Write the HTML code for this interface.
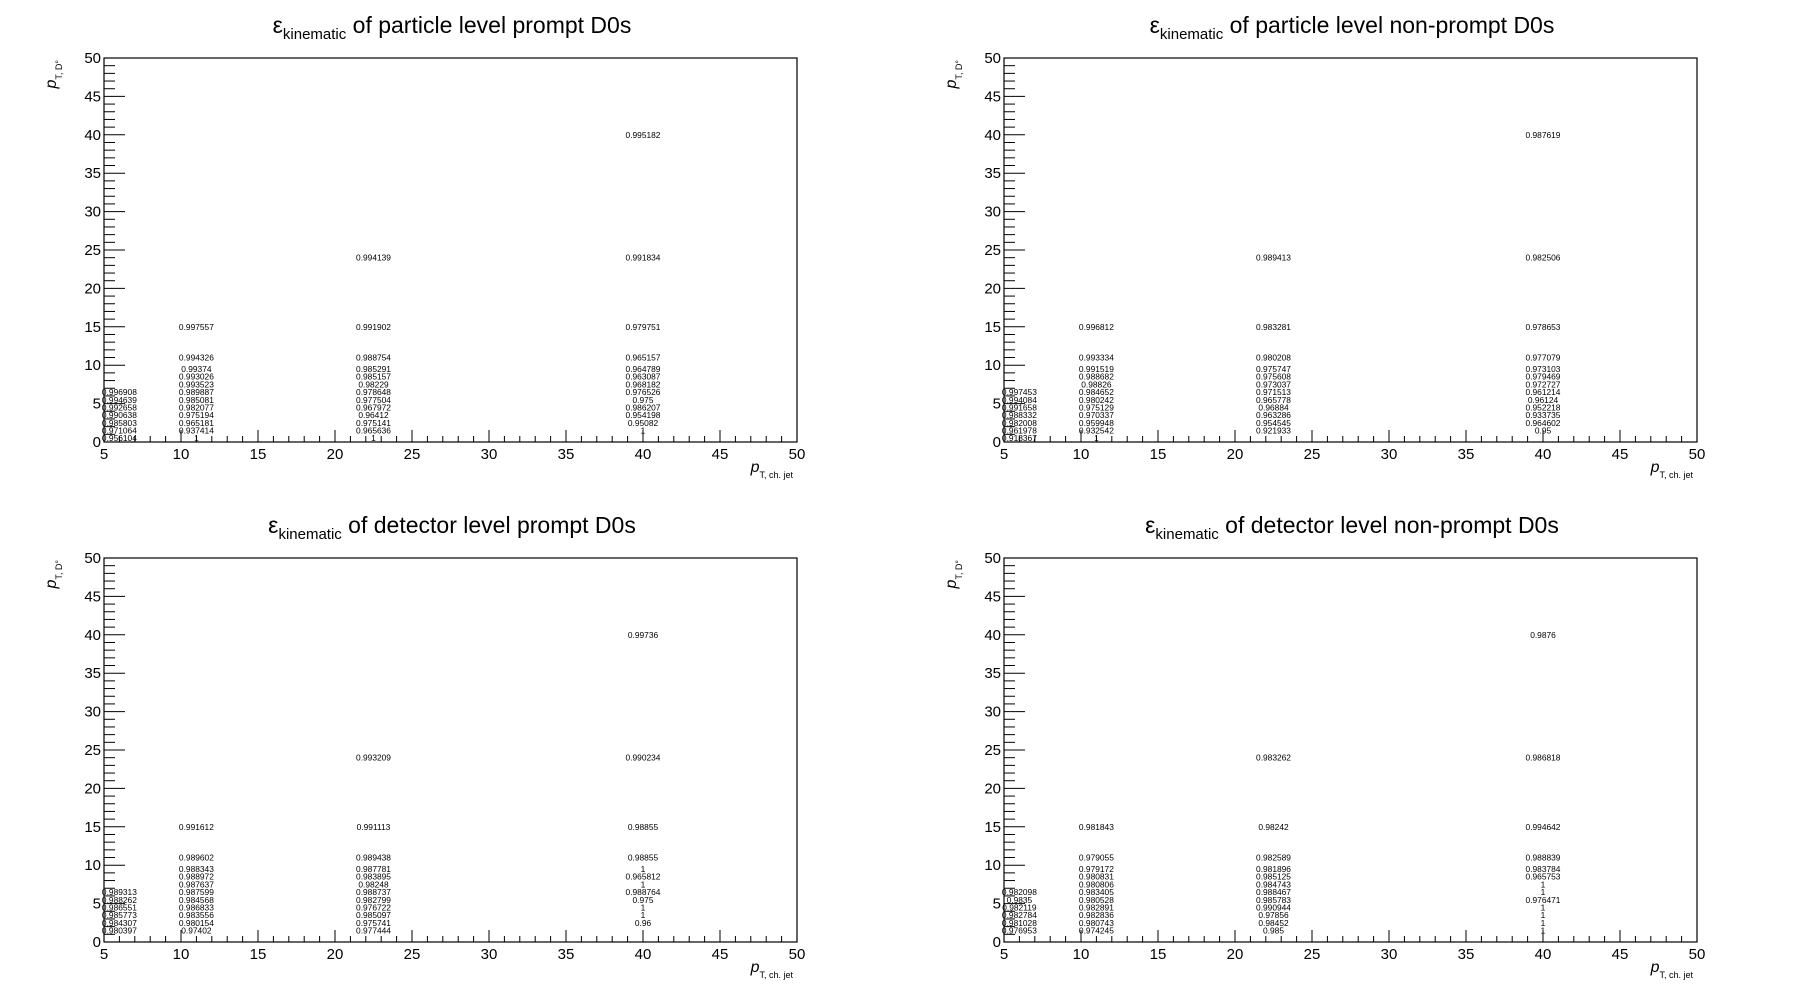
<!DOCTYPE html>
<html>
<head>
<meta charset="utf-8">
<style>
html,body{margin:0;padding:0;background:#fff;}
svg{display:block;font-family:"Liberation Sans",sans-serif;}
</style>
</head>
<body>
<svg id="chart" width="1800" height="1000" viewBox="0 0 1800 1000" xmlns="http://www.w3.org/2000/svg"></svg>
<script>
// shared bins
const colCenters = [6, 11, 22.5, 40];
const rowCenters = [0.5,1.5,2.5,3.5,4.5,5.5,6.5,7.5,8.5,9.5,11,15,24,40];
const xTickLabels = ["5","10","15","20","25","30","35","40","45","50"];
const yTickLabels = ["0","5","10","15","20","25","30","35","40","45","50"];
const titles = ["particle level prompt D0s","particle level non-prompt D0s","detector level prompt D0s","detector level non-prompt D0s"];

// panel 1: particle prompt
const p1c1 = [0.956104,0.971064,0.985803,0.990638,0.992658,0.994639,0.996908,null,null,null,null,null,null,null];
const p1c2 = [1,0.937414,0.965181,0.975194,0.982077,0.985081,0.989887,0.993523,0.993026,0.99374,0.994326,0.997557,null,null];
const p1c3 = [1,0.965636,0.975141,0.96412,0.967972,0.977504,0.978648,0.98229,0.985157,0.985291,0.988754,0.991902,0.994139,null];
const p1c4 = [null,1,0.95082,0.954198,0.986207,0.975,0.976526,0.968182,0.963087,0.964789,0.965157,0.979751,0.991834,0.995182];
// panel 2: particle non-prompt
const p2c1 = [0.918367,0.961978,0.982008,0.988332,0.991658,0.994084,0.997453,null,null,null,null,null,null,null];
const p2c2 = [1,0.932542,0.959948,0.970337,0.975129,0.980242,0.984652,0.98826,0.988682,0.991519,0.993334,0.996812,null,null];
const p2c3 = [null,0.921933,0.954545,0.963286,0.96884,0.965778,0.971513,0.973037,0.975608,0.975747,0.980208,0.983281,0.989413,null];
const p2c4 = [null,0.95,0.964602,0.933735,0.952218,0.96124,0.961214,0.972727,0.979469,0.973103,0.977079,0.978653,0.982506,0.987619];
// panel 3: detector prompt
const p3c1 = [null,0.980397,0.984307,0.985773,0.986551,0.988262,0.989313,null,null,null,null,null,null,null];
const p3c2 = [null,0.97402,0.980154,0.983556,0.986833,0.984568,0.987599,0.987637,0.988972,0.988343,0.989602,0.991612,null,null];
const p3c3 = [null,0.977444,0.975741,0.985097,0.976722,0.982799,0.988737,0.98248,0.983895,0.987781,0.989438,0.991113,0.993209,null];
const p3c4 = [null,null,0.96,1,1,0.975,0.988764,1,0.965812,1,0.98855,0.98855,0.990234,0.99736];
// panel 4: detector non-prompt
const p4c1 = [null,0.976953,0.981028,0.982784,0.982119,0.9835,0.982098,null,null,null,null,null,null,null];
const p4c2 = [null,0.974245,0.980743,0.982836,0.982891,0.980528,0.983405,0.980806,0.980831,0.979172,0.979055,0.981843,null,null];
const p4c3 = [null,0.985,0.98452,0.97856,0.990944,0.985783,0.988467,0.984743,0.985125,0.981896,0.982589,0.98242,0.983262,null];
const p4c4 = [null,1,1,1,1,0.976471,1,1,0.965753,0.983784,0.988839,0.994642,0.986818,0.9876];

const panels = [[p1c1,p1c2,p1c3,p1c4],[p2c1,p2c2,p2c3,p2c4],[p3c1,p3c2,p3c3,p3c4],[p4c1,p4c2,p4c3,p4c4]];

const NS = "http://www.w3.org/2000/svg";
const svg = document.getElementById('chart');
function mk(tag, attrs, parent){
  const e = document.createElementNS(NS, tag);
  for (const k in attrs) e.setAttribute(k, attrs[k]);
  parent.appendChild(e);
  return e;
}
const L=104, R=797, T=58, B=442;
const xMin=5, xMax=50, yMin=0, yMax=50;

panels.forEach((cols, pi) => {
  const ox = (pi % 2) * 900, oy = Math.floor(pi / 2) * 500;
  const sx = v => ox + L + (v - xMin) / (xMax - xMin) * (R - L);
  const sy = v => oy + B - (v - yMin) / (yMax - yMin) * (B - T);
  const g = mk('g', {}, svg);
  
  

  // title
  const title = mk('text', {x: ox + 452, y: oy + 33, 'text-anchor': 'middle', 'font-size': 23, fill: '#000'}, g);
  
  
  const t1 = mk('tspan', {}, title); t1.textContent = 'ε';
  const t2 = mk('tspan', {'font-size': 15, dy: 6}, title); t2.textContent = 'kinematic';
  const t3 = mk('tspan', {dy: -6}, title); t3.textContent = ' of ' + titles[pi];

  // frame
  const fr = mk('rect', {x: ox + L, y: oy + T, width: R - L, height: B - T, fill: 'none', stroke: '#000', 'stroke-width': 1.2}, g);
  
  

  // x ticks
  for (let v = 5; v <= 50; v++) {
    const major = (v % 5 === 0);
    const ln = mk('line', {x1: sx(v), x2: sx(v), y1: oy + B, y2: oy + B - (major ? 12 : 6), stroke: '#000', 'stroke-width': 1}, g);
    
    
  }
  xTickLabels.forEach(s => {
    const tx = mk('text', {x: sx(+s), y: oy + B + 17, 'text-anchor': 'middle', 'font-size': 15, fill: '#000'}, g);
    
    
    tx.textContent = s;
  });
  // y ticks
  for (let v = 0; v <= 50; v++) {
    const major = (v % 5 === 0);
    const ln = mk('line', {x1: ox + L, x2: ox + L + (major ? 21 : 11), y1: sy(v), y2: sy(v), stroke: '#000', 'stroke-width': 1}, g);
    
    
  }
  yTickLabels.forEach(s => {
    const tx = mk('text', {x: ox + L - 3, y: sy(+s) + 5, 'text-anchor': 'end', 'font-size': 15, fill: '#000'}, g);
    
    
    tx.textContent = s;
  });

  // axis titles
  const xt = mk('text', {x: ox + R - 4, y: oy + B + 30, 'text-anchor': 'end', 'font-size': 16, fill: '#000'}, g);
  
  
  const xa = mk('tspan', {'font-style': 'italic'}, xt); xa.textContent = 'p';
  const xb = mk('tspan', {'font-size': 9, dy: 6}, xt); xb.textContent = 'T, ch. jet';

  const yt = mk('text', {x: 0, y: 0, 'text-anchor': 'end', 'font-size': 16, fill: '#000', transform: 'translate(' + (ox + 56) + ',' + (oy + 60) + ') rotate(-90)'}, g);
  
  
  const ya = mk('tspan', {'font-style': 'italic'}, yt); ya.textContent = 'p';
  const yb = mk('tspan', {'font-size': 9, dy: 6}, yt); yb.textContent = 'T, D°';

  // cell values
  cols.forEach((arr, ci) => {
    arr.forEach((val, ri) => {
      if (val === null) return;
      const tx = mk('text', {x: sx(colCenters[ci]), y: sy(rowCenters[ri]) + 3, 'text-anchor': 'middle', 'font-size': 8.4, fill: '#000'}, g);
      
      
      tx.textContent = String(val);
    });
  });
});
</script>
</body>
</html>
